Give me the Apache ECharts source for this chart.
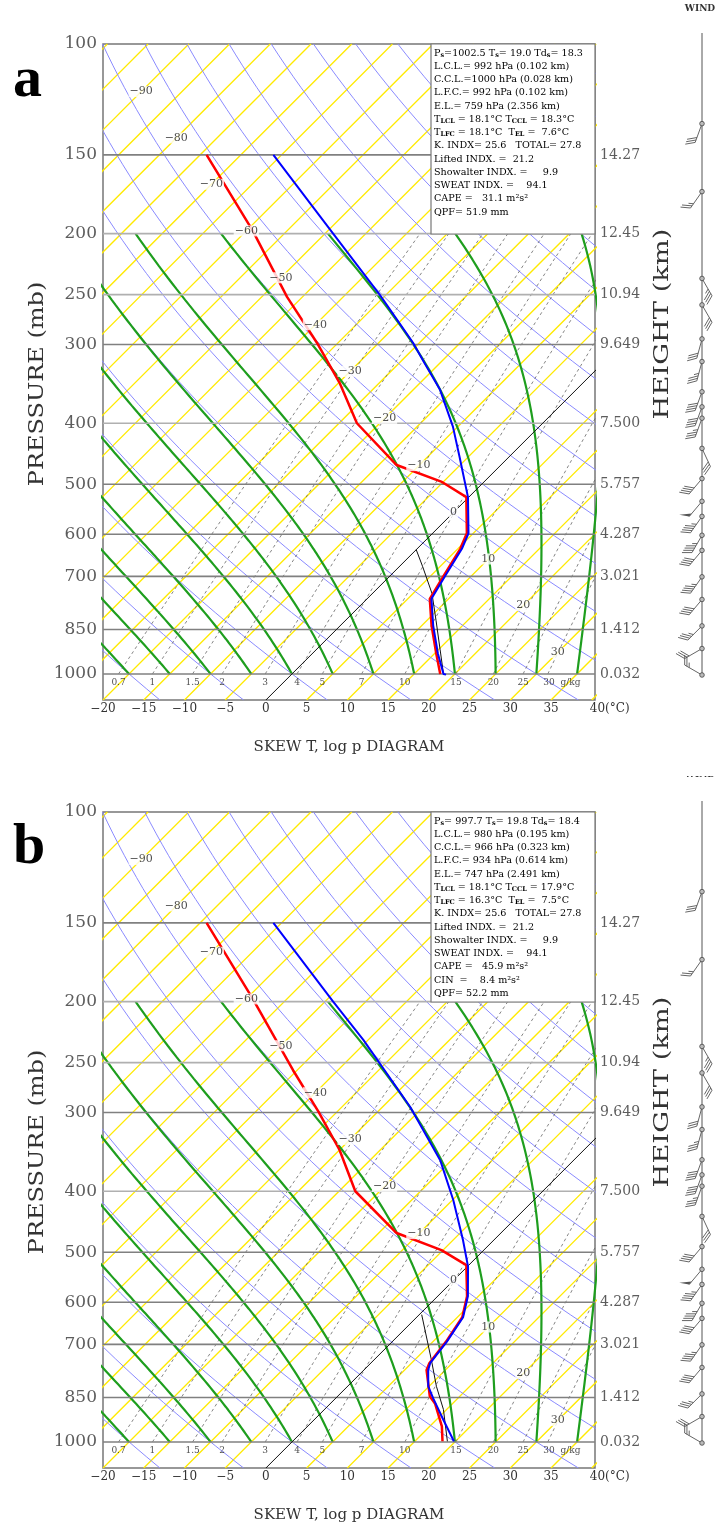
<!DOCTYPE html>
<html><head><meta charset="utf-8">
<script src="https://cdn.jsdelivr.net/npm/echarts@6/dist/echarts.min.js"></script>
<style>html,body{margin:0;padding:0;background:#fff}#c{width:721px;height:1526px}</style>
</head><body><div id="c"></div>
<script>
// ---------------- data ----------------
const pressureLabels = [100,150,200,250,300,400,500,600,700,850,1000];
const heightLabels = ['','14.27','12.45','10.94','9.649','7.500','5.757','4.287','3.021','1.412','0.032'];
const isobarLevels = [150,200,250,300,400,500,600,700,850,1000];
const isobarDark   = [true,false,false,true,false,true,true,true,true,true];
const xTickStep = 5;
const isotherms = [-100,-95,-90,-85,-80,-75,-70,-65,-60,-55,-50,-45,-40,-35,-30,-25,-20,-15,-10,-5,0,5,10,15,20,25,30,35,40];
const isothermLabelT = [-90,-80,-70,-60,-50,-40,-30,-20,-10,0,10,20,30];
const isothermLabelP = [119,141,167,198,235,279,331,393,467,554,657,779,925];
const dryTheta = [-20,-10,0,10,20,30,40,50,60,70,80,90,100,110,120,130,140,150,160,170];
const moistThetaW = [-20,-15,-10,-5,0,5,10,15,20,25,30,35];
const mixRatios = [0.7,1,1.5,2,3,4,5,7,10,15,20,25,30];
const mixLabels = ['0.7','1','1.5','2','3','4','5','7','10','15','20','25','30'];

// panel a soundings (pressure hPa, temperature degC)
const tempA_p = [150,200,250,298,321,354,405,452,524,598,633,700,760,838,928,1000,1002.5];
const tempA_T = [-66.0,-49.0,-35.8,-25.8,-21.9,-16.7,-10.6,-6.1,-0.1,4.4,5.5,6.8,7.9,11.4,15.4,18.6,19.0];
const dewA_p  = [150,198,252,298,345,400,466,495,524,598,633,700,760,838,928,1000,1002.5];
const dewA_T  = [-74.2,-59.2,-46.9,-37.6,-29.9,-22.8,-12.8,-5.3,-0.3,4.2,5.3,6.6,7.7,11.2,15.2,18.2,18.3];
const parcelA_p = [635,676,745,822,915,1000];
const parcelA_T = [0.0,2.9,7.3,11.1,15.2,18.6];
// panel b soundings
const tempB_p = [150,200,230,294,357,413,478,527,587,634,693,750,769,816,853,923,997.7];
const tempB_T = [-66.0,-49.0,-40.6,-26.6,-16.4,-9.9,-3.8,0.1,3.7,5.7,6.7,7.3,7.9,9.9,12.0,15.9,19.8];
const dewB_p  = [150,198,257,299,344,400,466,496,524,587,634,693,750,769,846,870,945,997.7];
const dewB_T  = [-74.2,-59.2,-45.5,-37.3,-30.0,-23.0,-12.8,-5.2,-0.3,3.6,5.6,6.6,7.2,7.7,11.3,12.9,16.5,18.4];
const parcelB_p = [628,742,816,888,997.7];
const parcelB_T = [0.3,7.1,10.9,14.6,19.0];

// winds: height km, direction deg, speed kt
const windA_h   = [14.6,12.8,10.5,9.8,8.9,8.3,7.5,7.1,6.8,6.0,5.2,4.6,4.2,3.7,3.3,2.6,2.0,1.3,0.7,0.0];
const windA_dir = [200,215,150,150,195,195,200,200,200,155,220,220,215,210,220,215,220,225,240,300];
const windA_spd = [30,25,35,30,30,35,40,40,35,30,40,50,45,45,40,45,40,35,30,25];
const windB_h   = [14.6,12.8,10.5,9.8,8.9,8.3,7.5,7.1,6.8,6.0,5.2,4.6,4.2,3.7,3.3,2.6,2.0,1.3,0.7,0.0];
const windB_dir = [200,215,150,150,195,195,200,200,200,155,220,220,215,210,220,215,220,225,240,300];
const windB_spd = [30,25,35,30,30,35,40,40,35,30,40,50,45,45,40,45,40,35,30,25];

const boxA = [
 '{n|P}{s|s}{n|=1002.5 T}{s|s}{n|= 19.0 Td}{s|s}{n|= 18.3}',
 '{n|L.C.L.= 992 hPa (0.102 km)}',
 '{n|C.C.L.=1000 hPa (0.028 km)}',
 '{n|L.F.C.= 992 hPa (0.102 km)}',
 '{n|E.L.= 759 hPa (2.356 km)}',
 '{n|T}{s|LCL}{n| = 18.1°C T}{s|CCL}{n| = 18.3°C}',
 '{n|T}{s|LFC}{n| = 18.1°C  T}{s|EL}{n| =  7.6°C}',
 '{n|K. INDX= 25.6   TOTAL= 27.8}',
 '{n|Lifted INDX. =  21.2}',
 '{n|Showalter INDX. =     9.9}',
 '{n|SWEAT INDX. =    94.1}',
 '{n|CAPE =   31.1 m²s²}',
 '{n|QPF= 51.9 mm}'
];
const boxB = [
 '{n|P}{s|s}{n|= 997.7 T}{s|s}{n|= 19.8 Td}{s|s}{n|= 18.4}',
 '{n|L.C.L.= 980 hPa (0.195 km)}',
 '{n|C.C.L.= 966 hPa (0.323 km)}',
 '{n|L.F.C.= 934 hPa (0.614 km)}',
 '{n|E.L.= 747 hPa (2.491 km)}',
 '{n|T}{s|LCL}{n| = 18.1°C T}{s|CCL}{n| = 17.9°C}',
 '{n|T}{s|LFC}{n| = 16.3°C  T}{s|EL}{n| =  7.5°C}',
 '{n|K. INDX= 25.6   TOTAL= 27.8}',
 '{n|Lifted INDX. =  21.2}',
 '{n|Showalter INDX. =     9.9}',
 '{n|SWEAT INDX. =    94.1}',
 '{n|CAPE =   45.9 m²s²}',
 '{n|CIN  =    8.4 m²s²}',
 '{n|QPF= 52.2 mm}'
];

// ---------------- diagram geometry / thermodynamics ----------------
const PB = 1100, PT = 100, XMIN = -20, XMAX = 40.4;
const GW = 492, GH = 656;
const S = (GH / Math.log(PB/PT)) / (GW / (XMAX - XMIN)); // 45 degree skew
function skewX(T, p){ return T + S*Math.log(PB/p); }
function es(Tc){ return 6.112*Math.exp(17.67*Tc/(Tc+243.5)); }
function tdFromW(w, p){ const e = w*p/(622+w); const l = Math.log(e/6.112); return 243.5*l/(17.67-l); }
function moistLapse(TK, p){
  const e = es(TK-273.15), rs = 0.95*0.622*e/(p-e), Lv = 2.501e6, Rd = 287.04, Cp = 1005.7;
  return (Rd*TK + Lv*rs)/(p*(Cp + Lv*Lv*rs*0.622/(Rd*TK*TK)));
}
function moistCurve(thw){
  let T = thw+273.15, p = 1000; const pts = [[skewX(thw,1000),1000]];
  while (p > 200.01){ const dp = -5; const k1 = moistLapse(T,p); const k2 = moistLapse(T+k1*dp/2, p+dp/2); T += k2*dp; p += dp; pts.push([skewX(T-273.15,p),p]); }
  return pts;
}
function dryCurve(th){
  const pts = []; for (let i=0;i<=60;i++){ const p = PB*Math.pow(PT/PB,i/60); const T = (th+273.15)*Math.pow(p/1000,0.2857)-273.15; pts.push([skewX(T,p),p]); } return pts;
}
function mixCurve(w){
  const pts = []; for (let i=0;i<=16;i++){ const p = 1000 - i*50; pts.push([skewX(tdFromW(w,p),p),p]); } return pts;
}
function profile(ps, Ts){ return ps.map((p,i)=>[skewX(Ts[i],p),p]); }

// ---------------- build option ----------------
const FONT = 'DejaVu Serif';
const series = [];
function addLine(gi, data, color, width, type, z){
  series.push({type:'line', xAxisIndex:gi, yAxisIndex:gi, data, symbol:'none', silent:true, animation:false, clip:true,
    lineStyle:{color, width, type: type||'solid'}, z: z||2});
}
function addLabels(gi, items, label, z){
  series.push({type:'scatter', xAxisIndex:gi, yAxisIndex:gi, data:items, symbolSize:0, silent:true, animation:false, clip:false,
    label:Object.assign({show:true, formatter:'{b}', fontFamily:FONT, color:'#222'}, label), z: z||5});
}

const panels = [
  {gi:0, top:44, temp:[tempA_p,tempA_T], dew:[dewA_p,dewA_T], parcel:[parcelA_p,parcelA_T], box:boxA, wgi:2, wind:[windA_h,windA_dir,windA_spd]},
  {gi:1, top:812, temp:[tempB_p,tempB_T], dew:[dewB_p,dewB_T], parcel:[parcelB_p,parcelB_T], box:boxB, wgi:3, wind:[windB_h,windB_dir,windB_spd]}
];

const grids = [], xAxes = [], yAxes = [], graphics = [];
panels.forEach(P => {
  const gi = P.gi;
  grids[gi] = {left:103, top:P.top, width:GW, height:GH, show:true, borderColor:'#777', borderWidth:1.5, backgroundColor:'transparent'};
  xAxes[gi] = {gridIndex:gi, type:'value', min:XMIN, max:XMAX, interval:xTickStep,
    axisLine:{show:false}, axisTick:{show:false}, splitLine:{show:false},
    axisLabel:{show:true, showMaxLabel:true, showMinLabel:true, margin:3, fontSize:12, fontFamily:FONT, color:'#333',
      formatter: v => { if (Math.abs(v - Math.round(v/xTickStep)*xTickStep) > 1e-6) return '';
        if (Math.round(v) === 40) return '{r|40(°C)}'; return v < 0 ? '\u2212' + (-v) : String(v); },
      rich:{r:{fontSize:12, fontFamily:FONT, color:'#333', padding:[0,0,0,36]}}}};
  yAxes[gi] = {gridIndex:gi, type:'log', logBase:10, min:PT, max:PB, inverse:true,
    axisLine:{show:false}, axisTick:{show:false}, axisLabel:{show:false}, splitLine:{show:false}};

  isotherms.forEach(T => addLine(gi, [[skewX(T,PB),PB],[skewX(T,PT),PT]], T===0 ? '#111' : '#ffea00', T===0 ? 1 : 1.3, 'solid', T===0 ? 4 : 2));
  dryTheta.forEach(th => addLine(gi, dryCurve(th), '#8a8aff', 1, 'solid', 2));
  mixRatios.forEach(w => addLine(gi, mixCurve(w), '#666', 0.8, [3,3], 3));
  moistThetaW.forEach(t => addLine(gi, moistCurve(t), '#1e9e1e', 2.2, 'solid', 3));
  isobarLevels.forEach((p,i) => addLine(gi, [[XMIN,p],[XMAX,p]], isobarDark[i] ? '#808080' : '#b0b0b0', 1.6, 'solid', 3));
  addLine(gi, profile(P.parcel[0],P.parcel[1]), '#111', 1, 'solid', 6);
  addLine(gi, profile(P.temp[0],P.temp[1]), '#0000ff', 2, 'solid', 7);
  addLine(gi, profile(P.dew[0],P.dew[1]), '#ff0000', 2.5, 'solid', 6);

  addLabels(gi, isothermLabelT.map((T,i)=>({value:[skewX(T,isothermLabelP[i]),isothermLabelP[i]], name: T<0 ? '\u2212'+(-T) : String(T)})),
    {position:'inside', fontSize:11, backgroundColor:'#fff', padding:[0,1]}, 8);
  addLabels(gi, mixRatios.map((w,i)=>({value:[skewX(tdFromW(w,1000),1000),1034], name: mixLabels[i],
      label: i===mixRatios.length-1 ? {formatter:'30  g/kg', offset:[14,0]} : undefined})),
    {position:'inside', fontSize:9, color:'#222'}, 8);
  addLabels(gi, pressureLabels.map(p=>({value:[XMIN,p], name:String(p)})), {position:'left', distance:6, fontSize:17, color:'#333'}, 8);
  addLabels(gi, pressureLabels.map((p,i)=>({value:[XMAX,p], name:heightLabels[i]})), {position:'right', distance:5, fontSize:14, color:'#333'}, 8);

  // wind column
  const wgi = P.wgi, wtop = P.top - 11;
  grids[wgi] = {left:660, top:wtop, width:60, height:642};
  xAxes[wgi] = {gridIndex:wgi, type:'value', min:-1.4, max:0.6, show:false};
  yAxes[wgi] = {gridIndex:wgi, type:'value', min:0, max:17, show:false};
  series.push({type:'line', xAxisIndex:wgi, yAxisIndex:wgi, data:[[0,0],[0,17]], symbol:'none', silent:true, animation:false, lineStyle:{color:'#555', width:1}, z:3});
  series.push({type:'custom', xAxisIndex:wgi, yAxisIndex:wgi, silent:true, animation:false, clip:false, z:4,
    data: P.wind[0].map((h,i)=>[0,h,P.wind[1][i],P.wind[2][i]]),
    renderItem:(params, api) => {
      const h = api.value(1), dir = api.value(2), spd = api.value(3);
      const c = api.coord([0,h]);
      const r = dir*Math.PI/180, ux = Math.sin(r), uy = -Math.cos(r), px = -uy, py = ux;
      const L = 20, ex = c[0]+ux*L, ey = c[1]+uy*L;
      const st = {stroke:'#555', lineWidth:0.9, fill:null};
      const ch = [{type:'line', shape:{x1:c[0],y1:c[1],x2:ex,y2:ey}, style:st}];
      let s = spd, pos = 0; const fl = 10, step = 2.6;
      const dx = px*0.87 + ux*0.5, dy = py*0.87 + uy*0.5;
      while (s >= 50){ const bx = ex-ux*pos, by = ey-uy*pos;
        ch.push({type:'polygon', shape:{points:[[bx,by],[bx+dx*fl,by+dy*fl],[bx-ux*4,by-uy*4]]}, style:{fill:'#555'}}); s -= 50; pos += 5; }
      while (s >= 10){ const bx = ex-ux*pos, by = ey-uy*pos;
        ch.push({type:'line', shape:{x1:bx,y1:by,x2:bx+dx*fl,y2:by+dy*fl}, style:st}); s -= 10; pos += step; }
      if (s >= 5){ if (pos === 0) pos = step; const bx = ex-ux*pos, by = ey-uy*pos;
        ch.push({type:'line', shape:{x1:bx,y1:by,x2:bx+dx*fl/2,y2:by+dy*fl/2}, style:st}); }
      ch.push({type:'circle', shape:{cx:c[0], cy:c[1], r:2.3}, style:{fill:'#bbb', stroke:'#444', lineWidth:0.8}});
      return {type:'group', children:ch};
    }});

  // text box
  const bx0 = 431, by0 = P.top, bh = 190;
  graphics.push({type:'rect', z:50, shape:{x:bx0, y:by0, width:595-bx0, height:bh}, style:{fill:'#fff', stroke:'#777', lineWidth:1.2}});
  P.box.forEach((t,i) => graphics.push({type:'text', z:51, x:bx0+3, y:by0+9+i*13.25,
    style:{text:t, textVerticalAlign:'middle', textAlign:'left',
      rich:{n:{fontFamily:FONT, fontSize:9.6, color:'#000'}, s:{fontFamily:FONT, fontSize:6.5, fontWeight:'bold', color:'#000', padding:[4,0,0,0]}}}}));
  graphics.push({type:'text', z:51, x:349, y:P.top+703, style:{text:'SKEW T, log p DIAGRAM', font:'15px "DejaVu Serif"', fill:'#333', textAlign:'center', textVerticalAlign:'middle'}});
  graphics.push({type:'text', z:51, x:38, y:P.top+340, rotation:Math.PI/2, scaleX:1.2, style:{text:'PRESSURE (mb)', font:'20px "DejaVu Serif"', fill:'#333', textAlign:'center', textVerticalAlign:'middle'}});
  graphics.push({type:'text', z:51, x:663, y:P.top+280, rotation:Math.PI/2, scaleX:1.3, style:{text:'HEIGHT (km)', font:'21px "DejaVu Serif"', fill:'#333', textAlign:'center', textVerticalAlign:'middle'}});
});
graphics.push({type:'text', z:51, x:13, y:81, style:{text:'a', font:'bold 58px "Liberation Serif"', fill:'#000', textAlign:'left', textVerticalAlign:'middle'}});
graphics.push({type:'text', z:51, x:13, y:848, style:{text:'b', font:'bold 58px "Liberation Serif"', fill:'#000', textAlign:'left', textVerticalAlign:'middle'}});
graphics.push({type:'text', z:51, x:700, y:9, style:{text:'WIND', font:'bold 9px "DejaVu Serif"', fill:'#333', textAlign:'center', textVerticalAlign:'middle'}});
graphics.push({type:'text', z:51, x:700, y:775, style:{text:'WIND', font:'bold 9px "DejaVu Serif"', fill:'#333', textAlign:'center', textVerticalAlign:'middle'}});
graphics.push({type:'rect', z:52, shape:{x:680, y:765, width:41, height:11}, style:{fill:'#fff'}});

const chart = echarts.init(document.getElementById('c'), null, {renderer:'canvas', width:721, height:1526});
chart.setOption({animation:false, backgroundColor:'#fff', grid:grids, xAxis:xAxes, yAxis:yAxes, series, graphic:graphics});
</script></body></html>
